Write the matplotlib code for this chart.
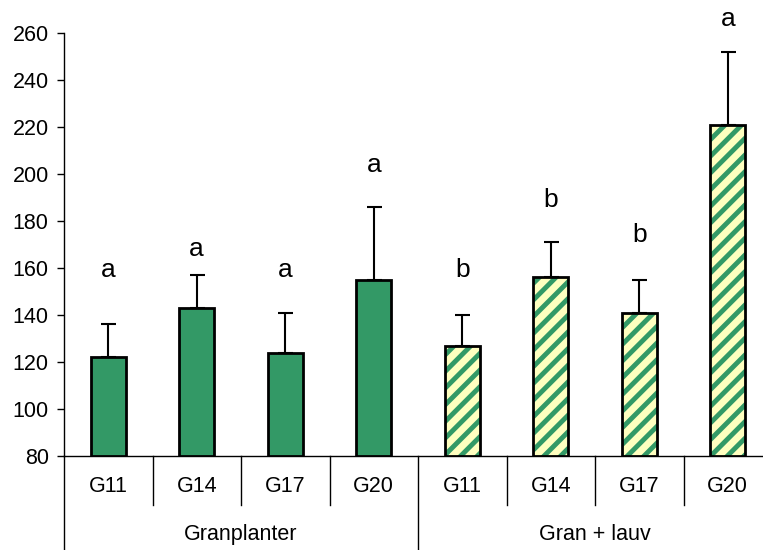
import matplotlib
matplotlib.use("Agg")
from matplotlib import pyplot as plt
from matplotlib import transforms
import numpy as np

plt.rcParams['font.family'] = ['Liberation Sans', 'DejaVu Sans']
plt.rcParams['hatch.linewidth'] = 3.5

# data
groups = ['Granplanter', 'Gran + lauv']
categories = ['G11', 'G14', 'G17', 'G20']
gran_mean = [122, 143, 124, 155]
gran_err = [14, 14, 17, 31]
lauv_mean = [127, 156, 141, 221]
lauv_err = [13, 15, 14, 31]
letters = ['a', 'a', 'a', 'a', 'b', 'b', 'b', 'a']
letter_y = [159, 168, 159, 204, 159, 189, 174, 266]
yticks = [80, 100, 120, 140, 160, 180, 200, 220, 240, 260]

green = '#339966'
yellow = '#ffffc0'

fig = plt.figure(figsize=(7.63, 5.5), dpi=100)
ax = fig.add_axes([64/763, 94/550, 708/763, 423/550])

n = len(categories)
x_gran = np.arange(n)
x_lauv = np.arange(n) + n
w = 0.4

# solid bars
ax.bar(x_gran, np.array(gran_mean) - 80, bottom=80, width=w,
       color=green, edgecolor='black', linewidth=2, zorder=3)

# hatched bars: fill + hatch first, outline on top
ax.bar(x_lauv, np.array(lauv_mean) - 80, bottom=80, width=w,
       color=yellow, edgecolor=green, hatch='//', linewidth=0, zorder=3)
ax.bar(x_lauv, np.array(lauv_mean) - 80, bottom=80, width=w,
       color='none', edgecolor='black', linewidth=2, zorder=4)

xs = np.concatenate([x_gran, x_lauv])
means = gran_mean + lauv_mean
errs = gran_err + lauv_err
ax.errorbar(xs, means, yerr=[np.zeros(len(errs)), errs], fmt='none',
            ecolor='black', elinewidth=1.5, capsize=5.4, capthick=1.5,
            zorder=2)

for xi, lab, ly in zip(xs, letters, letter_y):
    ax.text(xi, ly, lab, ha='center', va='center', fontsize=19,
            clip_on=False)

ax.set_xlim(-0.5, 2*n - 0.5)
ax.set_ylim(80, 260)
ax.set_yticks(yticks)
ax.tick_params(axis='y', direction='out', length=5, width=1,
               labelsize=15.5, pad=6)
ax.set_xticks([])
for s in ['top', 'right']:
    ax.spines[s].set_visible(False)
ax.spines['left'].set_linewidth(1)
ax.spines['bottom'].set_linewidth(1)

# category axis below the plot
trans = transforms.blended_transform_factory(ax.transData, ax.transAxes)
for i in range(2*n + 1):
    xb = i - 0.5
    if i % n == 0:
        ax.plot([xb, xb], [0, -0.222], color='black', lw=1,
                transform=trans, clip_on=False)
    else:
        ax.plot([xb, xb], [0, -0.116], color='black', lw=1,
                transform=trans, clip_on=False)

for xi in xs:
    ax.text(xi, -0.071, categories[xi % n], ha='center', va='center',
            fontsize=15.5, transform=trans)
for g, name in enumerate(groups):
    ax.text(g*n + (n - 1)/2, -0.185, name, ha='center', va='center',
            fontsize=15.5, transform=trans)

fig.savefig('out.png', dpi=100)
